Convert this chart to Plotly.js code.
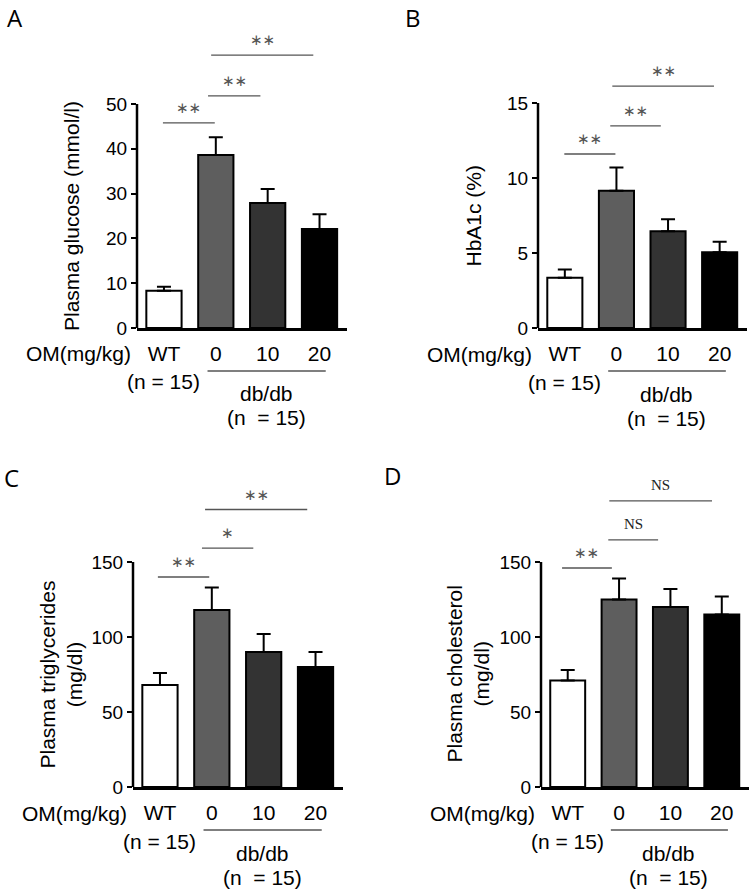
<!DOCTYPE html>
<html>
<head>
<meta charset="utf-8">
<script src="https://cdn.plot.ly/plotly-3.0.1.min.js"></script>
<style>
  html, body { margin: 0; padding: 0; background: #fff; }
  #chart { width: 753px; height: 893px; }
</style>
</head>
<body>
<div id="chart"></div>
<script>
// ---------- DATOS
const groups = ['WT', '0', '10', '20'];
const barColors = ['#ffffff', '#5e5e5e', '#333333', '#000000'];

const glucoseMean = [8.3, 38.6, 27.9, 22.1];
const glucoseSem = [0.9, 4.0, 3.1, 3.3];
const hba1cMean = [3.35, 9.15, 6.45, 5.05];
const hba1cSem = [0.55, 1.55, 0.8, 0.7];
const tgMean = [68, 118, 90, 80];
const tgSem = [8, 15, 12, 10];
const cholMean = [71, 125, 120, 115];
const cholSem = [7, 14, 12, 12];

// comparaciones: [desde, hasta, altura, etiqueta]
const glucoseSig = [[-0.02, 0.98, 45.8, '∗∗'], [0.85, 1.86, 51.8, '∗∗'], [0.91, 2.88, 60.9, '∗∗']];
const hba1cSig = [[-0.01, 0.98, 11.6, '∗∗'], [0.88, 1.86, 13.47, '∗∗'], [0.92, 2.89, 16.13, '∗∗']];
const tgSig = [[-0.04, 0.95, 140, '∗∗'], [0.81, 1.80, 159.3, '∗'], [0.87, 2.84, 185, '∗∗']];
const cholSig = [[-0.11, 0.86, 146, '∗∗'], [0.79, 1.76, 164.7, 'NS'], [0.81, 2.81, 190.7, 'NS']];

const W = 753, H = 893;
const FONT = 'Liberation Sans, Arial, sans-serif';

// ---------- PANELES (posiciones en pixeles)
const panels = [
  {id: '', letter: 'A', lx: 15, ly: 17, left: 137, right: 347, zero: 328, ppu: 4.48, top: 70, axisMax: 50, dtick: 10,
    title: 'Plasma glucose (mmol/l)', titleShift: -65, mean: glucoseMean, sem: glucoseSem, sig: glucoseSig},
  {id: '2', letter: 'B', lx: 413, ly: 17, left: 538, right: 747, zero: 328, ppu: 15, top: 20.5, axisMax: 15, dtick: 5,
    title: 'HbA1c (%)', titleShift: -65, mean: hba1cMean, sem: hba1cSem, sig: hba1cSig},
  {id: '3', letter: 'C', lx: 11, ly: 477, left: 133, right: 343, zero: 787, ppu: 1.5, top: 215, axisMax: 150, dtick: 50,
    title: 'Plasma triglycerides<br>(mg/dl)', titleShift: -73, mean: tgMean, sem: tgSem, sig: tgSig},
  {id: '4', letter: 'D', lx: 392, ly: 475, left: 541, right: 749, zero: 787, ppu: 1.5, top: 215, axisMax: 150, dtick: 50,
    title: 'Plasma cholesterol<br>(mg/dl)', titleShift: -74, mean: cholMean, sem: cholSem, sig: cholSig},
];

const data = [];
const shapes = [];
const annotations = [];
const layout = {
  width: W, height: H,
  margin: {l: 0, r: 0, t: 0, b: 0},
  paper_bgcolor: '#fff', plot_bgcolor: '#fff',
  showlegend: false,
  font: {family: FONT, color: '#000'},
};

for (const p of panels) {
  const xa = 'x' + p.id, ya = 'y' + p.id;
  const xs = groups.map((g, k) => k);

  data.push({
    type: 'bar', x: xs, y: p.mean, width: 0.68,
    xaxis: xa, yaxis: ya, hoverinfo: 'skip',
    marker: {color: barColors, line: {color: '#000', width: 2}},
    error_y: {type: 'data', symmetric: false, array: p.sem, arrayminus: p.sem.map(() => 0),
      color: '#000', thickness: 2, width: 7},
  });

  const ticks = [];
  for (let v = 0; v <= p.axisMax; v += p.dtick) ticks.push(v);

  layout['xaxis' + p.id] = {
    domain: [p.left / W, p.right / W], anchor: ya,
    range: [-0.52, 3.53], tickvals: xs, ticktext: groups,
    showline: true, linewidth: 2.5, linecolor: '#000', ticks: '',
    showgrid: false, zeroline: false, fixedrange: true,
    tickfont: {size: 21, family: FONT}, ticklabelstandoff: 5,
  };
  layout['yaxis' + p.id] = {
    domain: [1 - p.zero / H, 1 - (p.zero - p.top * p.ppu) / H], anchor: xa,
    range: [0, p.top], tickvals: ticks,
    showline: false, ticks: 'outside', ticklen: 5, tickwidth: 2, tickcolor: '#000',
    showgrid: false, zeroline: false, fixedrange: true,
    tickfont: {size: 19, family: FONT},
  };

  // eje vertical solo hasta el ultimo tick
  shapes.push({type: 'line', xref: xa + ' domain', yref: ya, x0: 0, x1: 0, y0: 0, y1: p.axisMax,
    line: {color: '#000', width: 2.5}});

  // lineas de significancia
  for (const s of p.sig) {
    shapes.push({type: 'line', xref: xa, yref: ya, x0: s[0], x1: s[1], y0: s[2], y1: s[2],
      line: {color: '#555', width: 1.3}});
    const isNS = s[3] === 'NS';
    annotations.push({xref: xa, yref: ya, x: (s[0] + s[1]) / 2, y: s[2], text: s[3], showarrow: false,
      yanchor: 'middle', yshift: isNS ? 16 : 15,
      font: isNS ? {family: 'Liberation Serif, Times New Roman, serif', size: 15, color: '#222'}
                 : {family: 'DejaVu Sans, sans-serif', size: 15, color: '#555'}});
  }

  // linea db/db
  shapes.push({type: 'line', xref: xa, yref: ya + ' domain', ysizemode: 'pixel', yanchor: 0,
    x0: 0.84, x1: 3.12, y0: -43, y1: -43, line: {color: '#555', width: 1.3}});

  annotations.push(
    {xref: xa + ' domain', yref: ya + ' domain', x: 0, y: 0, xanchor: 'right', yanchor: 'middle',
      xshift: -4, yshift: -26, text: 'OM(mg/kg)', showarrow: false, font: {size: 21}},
    {xref: xa, yref: ya + ' domain', x: 0, y: 0, xanchor: 'center', yanchor: 'middle',
      yshift: -54, text: '(n = 15)', showarrow: false, font: {size: 21}},
    {xref: xa, yref: ya + ' domain', x: 1.97, y: 0, xanchor: 'center', yanchor: 'middle',
      yshift: -66, text: 'db/db', showarrow: false, font: {size: 21}},
    {xref: xa, yref: ya + ' domain', x: 1.97, y: 0, xanchor: 'center', yanchor: 'middle',
      yshift: -90, text: '(n\u00a0 = 15)', showarrow: false, font: {size: 21}},
    {xref: xa + ' domain', yref: ya, x: 0, y: p.axisMax / 2, xanchor: 'center', yanchor: 'middle',
      xshift: p.titleShift, textangle: -90, text: p.title, showarrow: false, font: {size: 21}},
    {xref: 'paper', yref: 'paper', x: p.lx / W, y: 1 - p.ly / H, xanchor: 'center', yanchor: 'middle',
      text: p.letter, showarrow: false, font: {family: 'Open Sans, sans-serif', size: 24}}
  );
}

layout.shapes = shapes;
layout.annotations = annotations;

Plotly.newPlot('chart', data, layout, {staticPlot: true, displayModeBar: false});
</script>
</body>
</html>
